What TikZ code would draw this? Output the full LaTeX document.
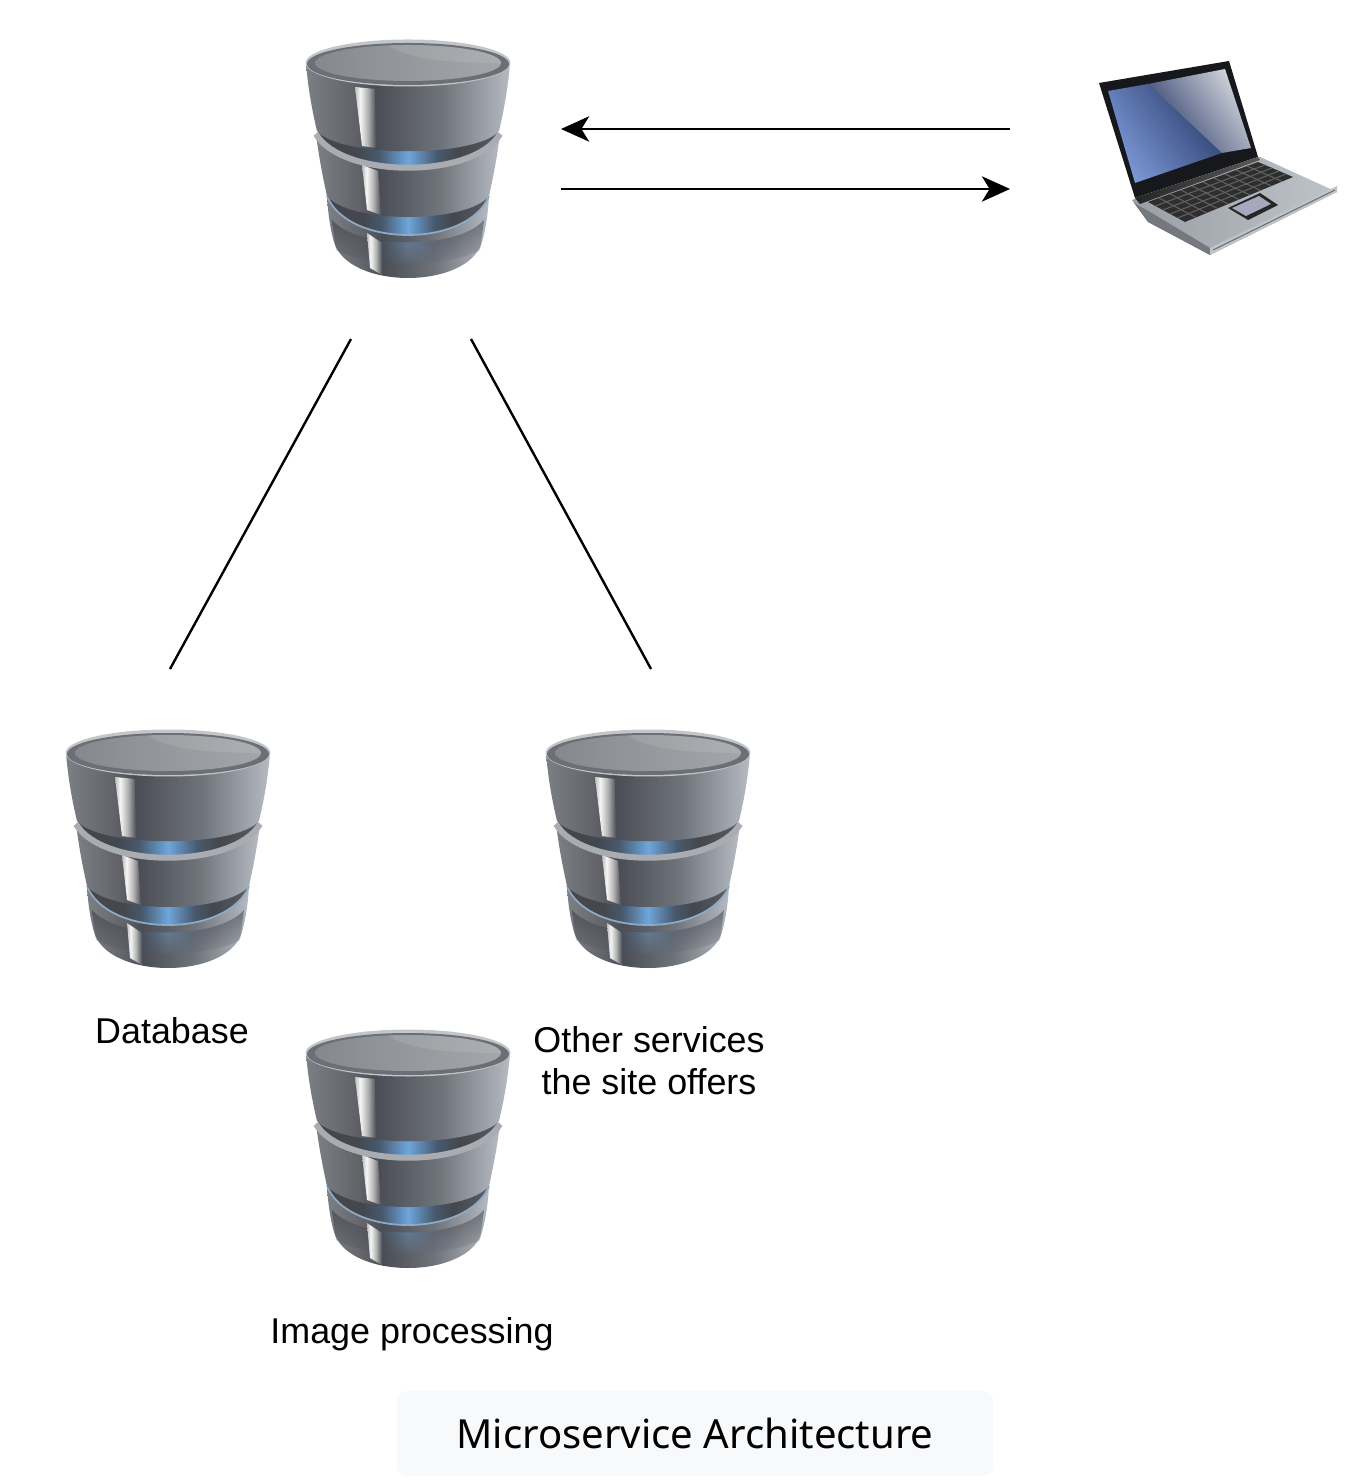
\documentclass[tikz,border=0pt]{standalone}
\usepackage{fontspec}
\setmainfont{Liberation Sans}
\newfontfamily\titlefont{Noto Sans}
\usetikzlibrary{arrows.meta,fadings}
\definecolor{tinta}{rgb}{0,0,0}
\definecolor{cajita}{HTML}{F8F9FB}
\definecolor{aro}{HTML}{A9ADB2}
\definecolor{fondo}{rgb}{.267,.278,.302}
\definecolor{brillo}{rgb}{.435,.651,.863}
\definecolor{tapa}{HTML}{17181C}
\definecolor{plata}{HTML}{B4BAC2}
\definecolor{pantalla}{HTML}{7C9AD8}
\definecolor{marino}{HTML}{2C3C6C}
\definecolor{perla}{HTML}{D4D6DC}
\definecolor{drumA}{rgb}{.486,.498,.518}
\definecolor{drumB}{rgb}{.376,.384,.408}
\definecolor{drumC}{rgb}{.290,.302,.333}
\definecolor{drumD}{rgb}{.431,.447,.475}
\definecolor{drumE}{rgb}{.714,.729,.761}
\definecolor{faceA}{rgb}{.522,.533,.553}
\definecolor{faceB}{rgb}{.584,.596,.612}
\definecolor{faceC}{rgb}{.639,.651,.667}
\definecolor{bandA}{rgb}{.278,.349,.431}
\definecolor{bandB}{rgb}{.353,.365,.388}
\definecolor{stripA}{rgb}{.745,.745,.745}
\definecolor{stripB}{rgb}{.965,.965,.965}
\definecolor{stripC}{rgb}{.706,.706,.706}
\definecolor{stripD}{rgb}{.298,.310,.337}
\pgfdeclarehorizontalshading{drumshade}{100bp}{color(0bp)=(drumA);color(25bp)=(drumA);color(37bp)=(drumB);color(42bp)=(drumC);color(58bp)=(drumD);color(75bp)=(drumE);color(100bp)=(drumE)}
\pgfdeclarehorizontalshading{faceshade}{100bp}{color(0bp)=(faceA);color(25bp)=(faceA);color(50bp)=(faceB);color(75bp)=(faceC);color(100bp)=(faceC)}
\pgfdeclarehorizontalshading{bandshade}{100bp}{color(0bp)=(fondo);color(25bp)=(fondo);color(36bp)=(fondo);color(42bp)=(bandA);color(50bp)=(brillo);color(58bp)=(bandA);color(64bp)=(fondo);color(75bp)=(bandB);color(100bp)=(bandB)}
\pgfdeclarehorizontalshading{stripshade}{100bp}{color(0bp)=(stripA);color(25bp)=(stripA);color(37bp)=(stripB);color(55bp)=(stripC);color(75bp)=(stripD);color(100bp)=(stripD)}

\begin{document}
\begin{tikzpicture}[x=0.01cm,y=-0.01cm,font=\fontsize{10.2pt}{11.95pt}\selectfont,
  enlace/.style={tinta,line width=0.68pt},
  flecha/.style={enlace,-{Stealth[length=8pt,width=7.2pt,inset=2.2pt]}},
  etiqueta/.style={text=tinta,align=center,inner sep=0pt}]
\useasboundingbox (0,0) rectangle (1358,1480);

% the four drums
\foreach \x/\y in {408/158,168/848,648/848,408/1148} {
\begin{scope}[shift={(\x,\y)}]
 % lowest drum
 \shade[shading=drumshade] (-81,38) .. controls (-80,55) and (-78,70) .. (-74,84) .. controls (-60,132) and (60,132) .. (74,84) .. controls (78,70) and (80,55) .. (81,38) -- cycle;
 \shade[shading=bandshade] (-81,38) .. controls (-60,90) and (60,90) .. (81,38) .. controls (60,22) and (-60,22) .. (-81,38) -- cycle;
 \shade[shading=bandshade,path fading=south,opacity=0.7] (-76,62) .. controls (-50,92) and (50,92) .. (76,62) -- (72,92) .. controls (40,110) and (-40,110) .. (-72,92) -- cycle;
 \draw[aro!55!brillo,line width=0.5pt] (-81,38) .. controls (-60,90) and (60,90) .. (81,38);
 % middle drum
 \shade[shading=drumshade] (-92,-24) .. controls (-89,0) and (-85,20) .. (-81,38) .. controls (-58,66) and (58,66) .. (81,38) .. controls (85,20) and (89,0) .. (92,-24) -- cycle;
 \shade[shading=bandshade] (-92,-24) .. controls (-66,20) and (66,20) .. (92,-24) .. controls (60,-50) and (-60,-50) .. (-92,-24) -- cycle;
 \draw[aro,line width=1.7pt] (-92,-24) .. controls (-66,21) and (66,21) .. (92,-24);
 % top drum
 \shade[shading=drumshade] (-102,-95) .. controls (-100,-70) and (-96,-48) .. (-91,-27) .. controls (-68,0) and (68,0) .. (91,-27) .. controls (96,-48) and (100,-70) .. (102,-95) -- cycle;
 \fill[aro!70!white] (0,-95) ellipse (102.5 and 23.5);
 \fill[fondo!60!aro] (0,-94) ellipse (101 and 21);
 \shade[shading=faceshade] (0,-95) ellipse (93 and 18);
 \begin{scope}
 \clip (0,-95) ellipse (93 and 18);
 \fill[white,opacity=0.1] (-21,-113) .. controls (0,-100) and (30,-95) .. (95,-95) -- (95,-120) -- cycle;
 \end{scope}
 % the bright strip
 \shade[shading=stripshade] (-53,-71) -- (-33,-69) -- (-32,-10) -- (-46,-12) -- cycle;
 \shade[shading=stripshade] (-46,7) -- (-30,13) -- (-27,57) -- (-41,52) -- cycle;
 \shade[shading=stripshade] (-41,75) -- (-26,85) -- (-26,117) -- (-38,110) -- cycle;
\end{scope}
}

% laptop
\shade[left color=plata!85!black,right color=plata!85!white] (1132,200) -- (1260,157) -- (1337,192) -- (1210,255) -- (1148,222) -- cycle;
\fill[plata!65!black] (1134,203) -- (1148,222) -- (1210,255) -- (1210,248) -- (1150,212) -- cycle;
\fill[plata!85!white] (1210,248) -- (1337,186) -- (1337,192) -- (1210,255) -- cycle;
\draw[plata!60!black,line width=0.3pt] (1213,250) -- (1335,190);
\fill[tapa] (1099,83) -- (1229,61) -- (1258,157) -- (1135,198) -- cycle;
\shade[left color=black!85,right color=black!65] (1135,198) -- (1258,157) -- (1260,160) -- (1140,204) -- cycle;
\shade[left color=pantalla,right color=marino,shading angle=125] (1108,91) -- (1148,84) -- (1222,153) -- (1135,183) -- cycle;
\shade[left color=marino,right color=perla,shading angle=125] (1148,84) -- (1225,69) -- (1251,148) -- (1222,153) -- cycle;
\fill[black!82] (1148,202) -- (1258,162) -- (1293,177) -- (1185,222) -- cycle;
\foreach \t in {0.2,0.4,0.6,0.8} \draw[black!62,line width=0.3pt] (1148+37*\t,202+20*\t) -- (1258+35*\t,162+15*\t);
\foreach \t in {0.1,0.2,...,0.9} \draw[black!62,line width=0.3pt] (1148+110*\t,202-40*\t) -- (1185+108*\t,222-45*\t);
\fill[black!85] (1228,208) -- (1260,193) -- (1278,205) -- (1248,220) -- cycle;
\fill[blue!15!gray!60!white] (1232,208) -- (1259,196) -- (1271,204) -- (1246,216) -- cycle;

% connectors
\coordinate (gatewayin) at (561,129);
\coordinate (gatewayout) at (561,189);
\coordinate (laptopout) at (1010,129);
\coordinate (laptopin) at (1010,189);
\coordinate (gatewayleft) at (351,339);
\coordinate (gatewayright) at (471,339);
\coordinate (databasetop) at (170,669);
\coordinate (otherstop) at (651,669);
\draw[flecha] (laptopout) -- (gatewayin);
\draw[flecha] (gatewayout) -- (laptopin);
\draw[enlace] (gatewayleft) -- (databasetop);
\draw[enlace] (gatewayright) -- (otherstop);

\node[etiqueta] (database) at (172,1031) {Database};
\node[etiqueta] (others) at (649,1061) {Other services\\the site offers};
\node[etiqueta] (imageproc) at (412,1334) {Image processing};
\node[fill=cajita,rounded corners=3pt,minimum width=5.96cm,minimum height=0.85cm,inner sep=0pt,font=\titlefont\fontsize{11.4pt}{13pt}\selectfont] (titlebox) at (695,1433.5) {Microservice Architecture};

\end{tikzpicture}
\end{document}
